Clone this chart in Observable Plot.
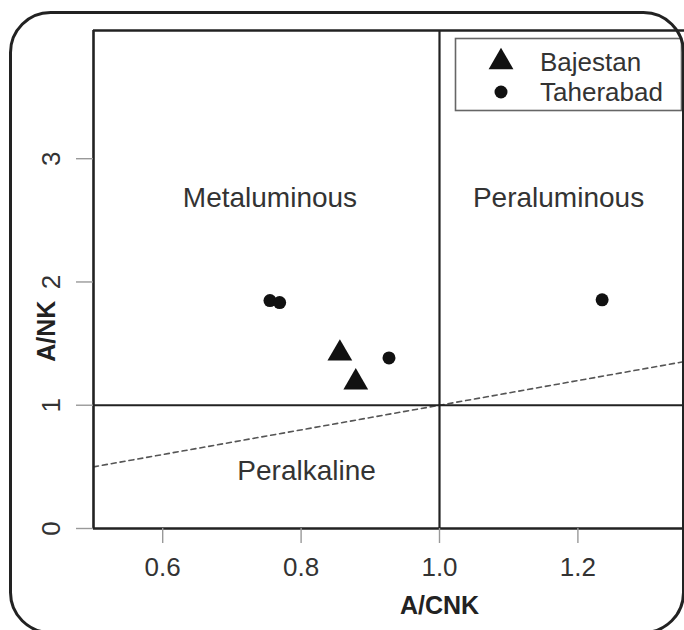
<!DOCTYPE html>
<html>
<head>
<meta charset="utf-8">
<script src="https://cdn.jsdelivr.net/npm/d3@7"></script>
<script src="https://cdn.jsdelivr.net/npm/@observablehq/plot@0.6"></script>
<style>
  html, body { margin: 0; padding: 0; background: #fff; }
  #wrap { position: relative; width: 684px; height: 630px; overflow: hidden; }
  #wrap svg { position: absolute; left: 0; top: 0; max-width: none !important; width: 785px !important; height: 630px !important; }
</style>
</head>
<body>
<div id="wrap"></div>
<script>
// ---- data ----
const bajestanX = [0.856, 0.879];
const bajestanY = [1.42, 1.186];
const taherabadX = [0.755, 0.769, 0.927, 1.235];
const taherabadY = [1.849, 1.833, 1.384, 1.855];
const xTicks = [0.6, 0.8, 1.0, 1.2];
const yTicks = [0, 1, 2, 3];
const xLimits = [0.5, 1.5];
const yLimits = [0, 4.04];
const boundaryX = [1.0];
const boundaryY = [1.0];
const dividerX = [0.5, 1.5]; // A/NK = A/CNK dashed line
const regionNames = ["Metaluminous", "Peraluminous", "Peralkaline"];
const regionX = [0.755, 1.172, 0.808];
const regionY = [2.68, 2.68, 0.47];
const legendNames = ["Bajestan", "Taherabad"];
const xTitle = "A/CNK";
const yTitle = "A/NK";
const yTitlePos = 1.6;

const font = "'Liberation Sans', Arial, Helvetica, sans-serif";
const bajestan = bajestanX.map((x, i) => ({x, y: bajestanY[i]}));
const taherabad = taherabadX.map((x, i) => ({x, y: taherabadY[i]}));
const regions = regionNames.map((name, i) => ({name, x: regionX[i], y: regionY[i]}));

const plot = Plot.plot({
  width: 785,
  height: 630,
  marginLeft: 93,
  marginRight: 0,
  marginTop: 30,
  marginBottom: 102,
  style: {fontFamily: font, background: "transparent", overflow: "visible", maxWidth: "none"},
  x: {domain: xLimits},
  y: {domain: yLimits},
  marks: [
    Plot.line(dividerX, {x: d => d, y: d => d, stroke: "#555", strokeWidth: 1.6, strokeDasharray: "5,4", clip: true}),
    Plot.ruleX(boundaryX, {stroke: "#222", strokeWidth: 2.2}),
    Plot.ruleY(boundaryY, {stroke: "#222", strokeWidth: 2.2}),
    Plot.ruleX([xLimits[0]], {stroke: "#222", strokeWidth: 2.6}),
    Plot.ruleY(yLimits, {stroke: "#222", strokeWidth: 2.6}),
    Plot.axisX({ticks: xTicks, tickSize: 15, tickPadding: 14, tickFormat: d3.format(".1f"),
      fontSize: 26, stroke: "#999", strokeWidth: 1.4, color: "#333", label: null}),
    Plot.axisY({ticks: yTicks, tickSize: 17, tickFormat: () => "", stroke: "#999", strokeWidth: 1.4, label: null}),
    Plot.text(yTicks, {y: d => d, text: d => String(d), frameAnchor: "left", dx: -42, rotate: -90,
      fontSize: 26, fill: "#333", textAnchor: "middle", lineAnchor: "middle"}),
    Plot.text([xTitle], {text: d => d, frameAnchor: "bottom", x: () => (xLimits[0] + xLimits[1]) / 2, dy: 85,
      fontSize: 25, fontWeight: "bold", fill: "#222", textAnchor: "middle"}),
    Plot.text([yTitle], {text: d => d, frameAnchor: "left", y: () => yTitlePos, dx: -47, rotate: -90,
      fontSize: 25, fontWeight: "bold", fill: "#222", textAnchor: "middle", lineAnchor: "middle"}),
    Plot.text(regions, {x: "x", y: "y", text: "name", fontSize: 28, fill: "#333"}),
    Plot.dot(taherabad, {x: "x", y: "y", r: 6.5, fill: "#111", stroke: "none"}),
    Plot.dot(bajestan, {x: "x", y: "y", r: 9.2, symbol: "triangle", fill: "#111", stroke: "none"})
  ]
});

const wrap = document.getElementById("wrap");
wrap.appendChild(plot);

const svg = d3.select(plot);
const lg = svg.append("g").attr("font-family", font).attr("text-anchor", "start");
lg.append("rect").attr("x", 455.5).attr("y", 38.5).attr("width", 226).attr("height", 72)
  .attr("fill", "#fff").attr("stroke", "#666").attr("stroke-width", 1.6);
const legendSymbols = [d3.symbolTriangle, d3.symbolCircle];
const legendSizes = [Math.PI * 9.2 * 9.2, Math.PI * 6.5 * 6.5];
legendNames.forEach((name, i) => {
  const cy = 62 + i * 30;
  lg.append("path").attr("d", d3.symbol(legendSymbols[i], legendSizes[i])())
    .attr("transform", `translate(501,${cy})`).attr("fill", "#111");
  lg.append("text").attr("x", 540).attr("y", cy).attr("dy", "0.35em")
    .attr("text-anchor", "start").attr("font-size", 26).attr("fill", "#333").text(name);
});
svg.append("rect").attr("x", 10.5).attr("y", 12.5).attr("width", 673).attr("height", 620)
  .attr("rx", 40).attr("ry", 40).attr("fill", "none").attr("stroke", "#222").attr("stroke-width", 3);
</script>
</body>
</html>
